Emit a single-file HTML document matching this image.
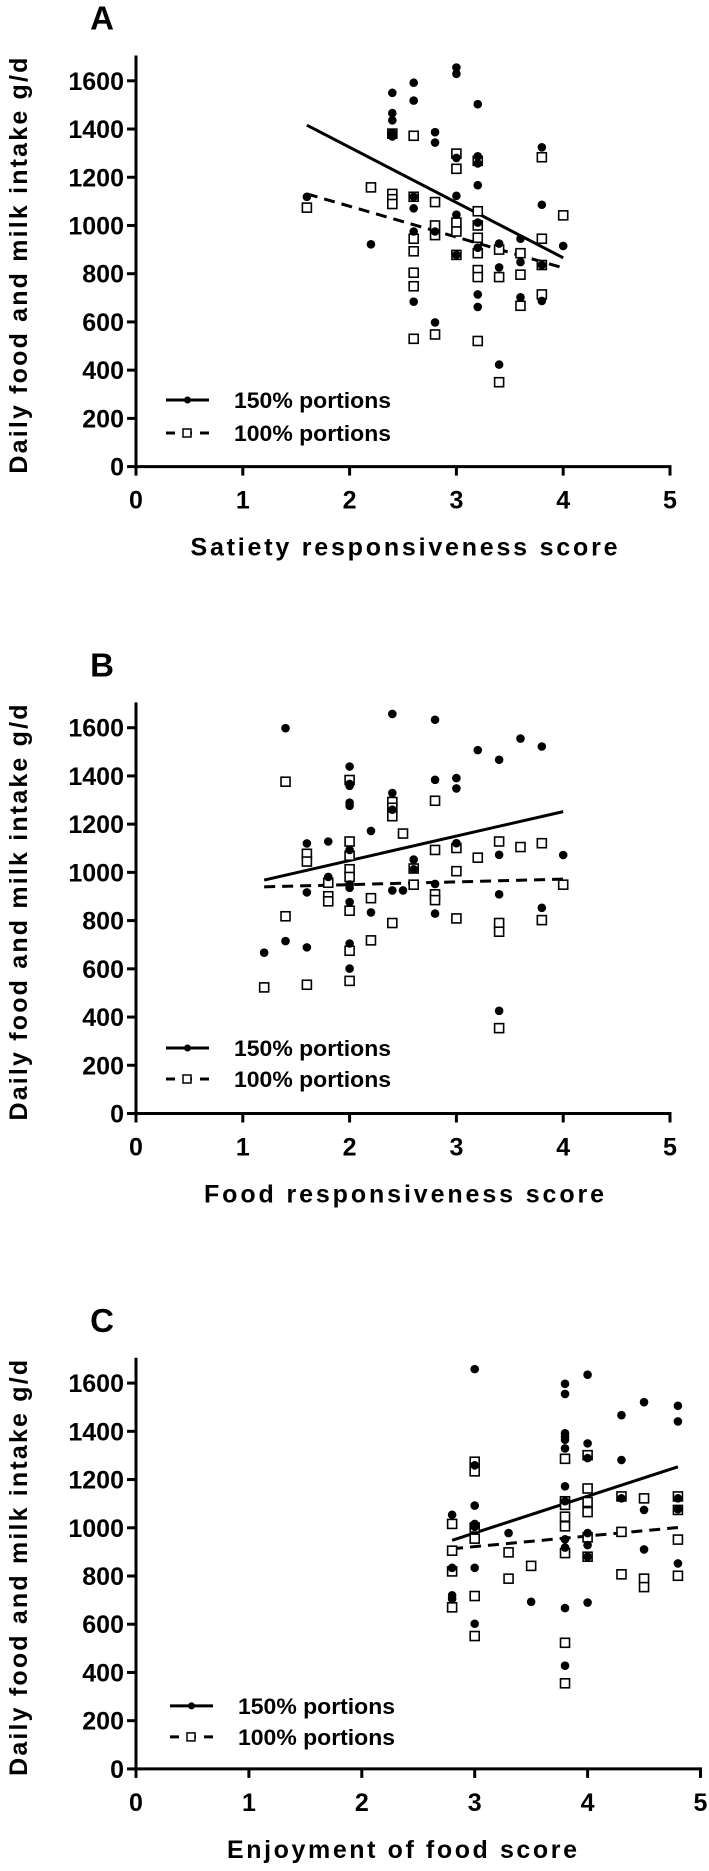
<!DOCTYPE html>
<html><head><meta charset="utf-8"><style>
html,body{margin:0;padding:0;background:#fff;}
svg{display:block;font-family:"Liberation Sans",Arial,sans-serif;}
</style></head><body>
<svg id="fig" width="709" height="1871" viewBox="0 0 709 1871" xmlns="http://www.w3.org/2000/svg"></svg>
<script>
// Panel A: Satiety responsiveness
const aDotX=[1.6,2.2,2.4,2.4,2.4,2.4,2.4,2.6,2.6,2.6,2.6,2.6,2.6,2.8,2.8,2.8,2.8,3.0,3.0,3.0,3.0,3.0,3.0,3.2,3.2,3.2,3.2,3.2,3.2,3.2,3.2,3.4,3.4,3.4,3.6,3.6,3.6,3.8,3.8,3.8,3.8,4.0];
const aDotY=[1119,922,1550,1466,1436,1384,1369,1592,1518,1119,1071,975,684,1387,1344,975,598,1655,1629,1280,1123,1045,878,1503,1287,1257,1167,1012,908,714,662,925,826,423,945,848,702,1324,1086,836,687,915];
const aSqX=[1.6,2.2,2.4,2.4,2.4,2.4,2.6,2.6,2.6,2.6,2.6,2.6,2.6,2.8,2.8,2.8,2.8,3.0,3.0,3.0,3.0,3.0,3.2,3.2,3.2,3.2,3.2,3.2,3.2,3.2,3.4,3.4,3.4,3.6,3.6,3.6,3.8,3.8,3.8,3.8,4.0];
const aSqY=[1074,1158,1131,1109,1089,1381,1372,1119,945,893,804,748,530,1097,1000,960,548,1298,1235,1012,975,878,1268,1059,1000,949,885,815,786,521,900,786,350,885,796,667,1283,945,836,714,1042];
const aFitSolid=[[1.6,1416],[4.0,866]];
const aFitDash=[[1.6,1131],[4.0,824]];
// Panel B: Food responsiveness
const bDotX=[1.2,1.4,1.4,1.6,1.6,1.6,1.8,1.8,2.0,2.0,2.0,2.0,2.0,2.0,2.0,2.0,2.0,2.0,2.0,2.2,2.2,2.4,2.4,2.4,2.4,2.5,2.6,2.6,2.8,2.8,2.8,2.8,3.0,3.0,3.0,3.2,3.4,3.4,3.4,3.4,3.6,3.8,3.8,4.0];
const bDotY=[667,1598,715,1120,917,689,1128,981,1439,1367,1359,1289,1276,1093,936,950,877,705,601,1172,834,1657,1329,1260,925,925,1053,1013,1633,1384,952,829,1391,1348,1121,1507,1467,1073,909,426,1555,1522,853,1072];
const bSqX=[1.2,1.4,1.4,1.6,1.6,1.6,1.8,1.8,1.8,2.0,2.0,2.0,2.0,2.0,2.0,2.0,2.0,2.2,2.2,2.4,2.4,2.4,2.4,2.5,2.6,2.6,2.8,2.8,2.8,2.8,3.0,3.0,3.0,3.2,3.4,3.4,3.4,3.4,3.6,3.8,3.8,4.0];
const bSqY=[523,1376,818,1077,1045,534,957,901,880,1383,1128,1069,1013,981,841,675,550,893,718,1292,1268,1233,790,1161,1016,949,1297,1093,909,885,1101,1005,809,1061,1128,790,754,354,1105,1121,802,949];
const bFitSolid=[[1.2,968],[4.0,1252]];
const bFitDash=[[1.2,940],[4.0,972]];
// Panel C: Enjoyment of food
const cDotX=[2.8,2.8,2.8,2.8,3.0,3.0,3.0,3.0,3.0,3.0,3.0,3.3,3.5,3.8,3.8,3.8,3.8,3.8,3.8,3.8,3.8,3.8,3.8,3.8,3.8,4.0,4.0,4.0,4.0,4.0,4.0,4.0,4.3,4.3,4.3,4.5,4.5,4.5,4.8,4.8,4.8,4.8,4.8];
const cDotY=[1054,834,720,705,1658,1259,1092,1016,1004,834,602,978,693,1597,1555,1392,1377,1365,1329,1172,1110,952,918,667,428,1635,1350,1289,978,928,880,690,1467,1281,1122,1521,1074,910,1506,1441,1122,1077,852];
const cSqX=[2.8,2.8,2.8,2.8,3.0,3.0,3.0,3.0,3.0,3.0,3.3,3.3,3.5,3.8,3.8,3.8,3.8,3.8,3.8,3.8,3.8,4.0,4.0,4.0,4.0,4.0,4.0,4.3,4.3,4.3,4.5,4.5,4.5,4.8,4.8,4.8,4.8];
const cSqY=[1016,905,819,670,1274,1234,1001,955,717,551,898,789,842,1286,1110,1095,1046,1006,895,523,355,1301,1163,1107,1065,960,880,1130,983,807,1122,789,754,1130,1074,951,801];
const cFitSolid=[[2.8,948],[4.8,1253]];
const cFitDash=[[2.8,913],[4.8,1001]];
const yTicks=[0,200,400,600,800,1000,1200,1400,1600];
const xTicks=[0,1,2,3,4,5];

const NS="http://www.w3.org/2000/svg";
const svg=document.getElementById('fig');
function mk(tag,attrs,parent){const e=document.createElementNS(NS,tag);for(const k in attrs)e.setAttribute(k,attrs[k]);(parent||svg).appendChild(e);return e;}

const panels=[
 {id:'a',letter:'A',zero:466.6,x0:136,pxu:106.8,xlabel:'Satiety responsiveness score',xlw:427,dx:aDotX,dy:aDotY,sx:aSqX,sy:aSqY,fs:aFitSolid,fd:aFitDash,lg1:66.6,lg2:33.6,lgx:166},
 {id:'b',letter:'B',zero:1113.5,x0:136,pxu:106.8,xlabel:'Food responsiveness score',xlw:400,dx:bDotX,dy:bDotY,sx:bSqX,sy:bSqY,fs:bFitSolid,fd:bFitDash,lg1:65.5,lg2:34.5,lgx:166},
 {id:'c',letter:'C',zero:1768.9,x0:136,pxu:112.9,xlabel:'Enjoyment of food score',xlw:350,dx:cDotX,dy:cDotY,sx:cSqX,sy:cSqY,fs:cFitSolid,fd:cFitDash,lg1:63,lg2:32,lgx:170}
];
const pxPerG=385.8/1600;

panels.forEach(p=>{
  const g=mk('g',{});
  
  
  const X=v=>p.x0+v*p.pxu;
  const Y=v=>p.zero-v*pxPerG;
  const t=mk('text',{x:102,y:Y(0)-437,'font-size':33,'font-weight':'bold','text-anchor':'middle'},g);
  t.textContent=p.letter;
  
  
  const ya=mk('line',{x1:X(0),y1:Y(1705),x2:X(0),y2:Y(0)+1.5,stroke:'#000','stroke-width':3},g);
  
  
  const xa=mk('line',{x1:X(0)-1.5,y1:Y(0),x2:X(5)+1.5,y2:Y(0),stroke:'#000','stroke-width':3},g);
  
  
  yTicks.forEach(v=>{
    mk('line',{x1:X(0)-9,y1:Y(v),x2:X(0),y2:Y(v),stroke:'#000','stroke-width':3},g);
    const tl=mk('text',{x:X(0)-12,y:Y(v)+9,'font-size':25,'font-weight':'bold','text-anchor':'end'},g);
    tl.textContent=v;
    
    
  });
  xTicks.forEach(v=>{
    mk('line',{x1:X(v),y1:Y(0),x2:X(v),y2:Y(0)+9,stroke:'#000','stroke-width':3},g);
    const tl=mk('text',{x:X(v),y:Y(0)+42,'font-size':25,'font-weight':'bold','text-anchor':'middle'},g);
    tl.textContent=v;
    
    
  });
  const xt=mk('text',{x:X(0)+(p.id==='c'?266:268),y:Y(0)+89,'font-size':25,'font-weight':'bold','text-anchor':'middle',textLength:p.xlw,lengthAdjust:'spacing'},g);
  xt.textContent=p.xlabel;
  
  
  const yt=mk('text',{x:0,y:0,'font-size':25,'font-weight':'bold','text-anchor':'middle',textLength:416,lengthAdjust:'spacing',transform:'translate(27,'+(Y(0)-201)+') rotate(-90)'},g);
  yt.textContent='Daily food and milk intake g/d';
  
  
  const ls=mk('line',{x1:X(p.fs[0][0]),y1:Y(p.fs[0][1]),x2:X(p.fs[1][0]),y2:Y(p.fs[1][1]),stroke:'#000','stroke-width':3},g);
  
  
  const ld=mk('line',{x1:X(p.fd[0][0]),y1:Y(p.fd[0][1]),x2:X(p.fd[1][0]),y2:Y(p.fd[1][1]),stroke:'#000','stroke-width':3,'stroke-dasharray':'11 7'},g);
  
  
  p.sx.forEach((xv,i)=>{
    const r=mk('rect',{x:X(xv)-4.5,y:Y(p.sy[i])-4.5,width:9,height:9,fill:'#fff',stroke:'#000','stroke-width':1.6},g);
    
    
  });
  p.dx.forEach((xv,i)=>{
    const c=mk('circle',{cx:X(xv),cy:Y(p.dy[i]),r:4.3,fill:'#000'},g);
    
    
  });
  const l1=Y(0)-p.lg1, l2=Y(0)-p.lg2;
  const lg=mk('g',{},g);
  
  
  mk('line',{x1:p.lgx,y1:l1,x2:p.lgx+43,y2:l1,stroke:'#000','stroke-width':3},lg);
  mk('circle',{cx:p.lgx+21.5,cy:l1,r:3.5,fill:'#000'},lg);
  const e1=mk('text',{x:p.lgx+68,y:l1+8,'font-size':22,'font-weight':'bold',textLength:157,lengthAdjust:'spacingAndGlyphs'},lg);
  e1.textContent='150% portions';
  
  
  mk('line',{x1:p.lgx,y1:l2,x2:p.lgx+43,y2:l2,stroke:'#000','stroke-width':3,'stroke-dasharray':'9 8'},lg);
  mk('rect',{x:p.lgx+17,y:l2-4,width:8,height:8,fill:'#fff',stroke:'#000','stroke-width':1.5},lg);
  const e2=mk('text',{x:p.lgx+68,y:l2+8,'font-size':22,'font-weight':'bold',textLength:157,lengthAdjust:'spacingAndGlyphs'},lg);
  e2.textContent='100% portions';
  
  
});
</script>
</body></html>
